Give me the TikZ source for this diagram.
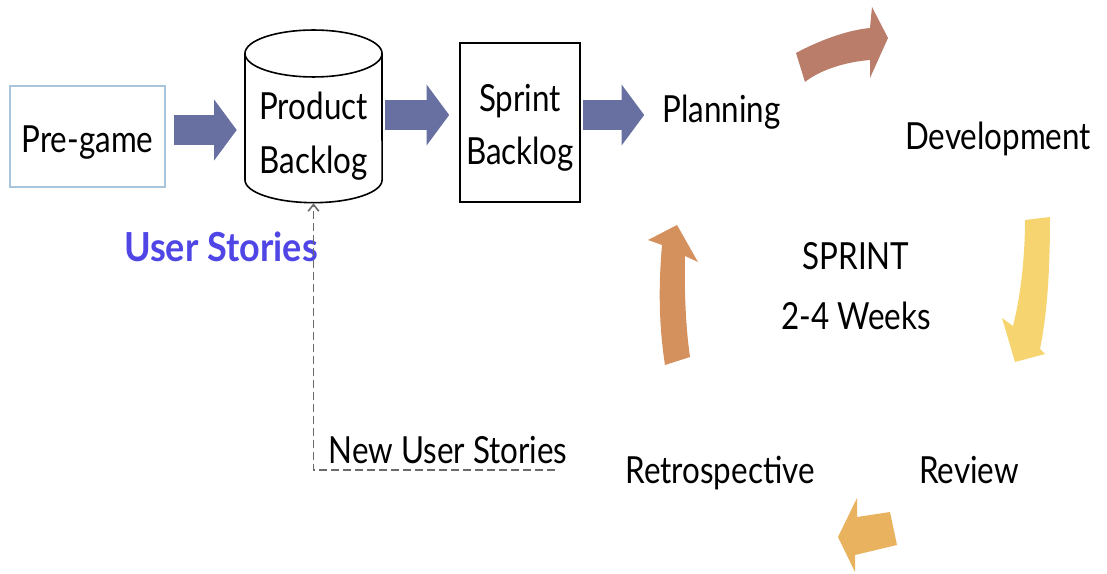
\documentclass[tikz,border=0pt]{standalone}
\usepackage{fontspec}
\setmainfont[FakeStretch=0.84]{Lato}
\newfontfamily\usfont[FakeStretch=0.9]{Lato}
\usetikzlibrary{arrows.meta,calc}
\definecolor{fatblue}{HTML}{6870A2}
\definecolor{pgborder}{HTML}{A9C5DD}
\definecolor{usblue}{HTML}{5046E6}
\definecolor{arrA}{HTML}{B97D69}
\definecolor{arrB}{HTML}{F6D470}
\definecolor{arrC}{HTML}{E9B25F}
\definecolor{arrD}{HTML}{D4915E}
\definecolor{dashgray}{HTML}{6A6A6A}
\tikzset{
  lbl/.style={font=\fontsize{28}{40}\selectfont, inner sep=0pt, align=center},
  boxnode/.style={draw, line width=1.2pt, inner sep=0pt},
  fatarrow/.style={draw=fatblue, line width=22pt, -{Triangle[length=17pt,width=45pt]}},
  dashln/.style={draw=dashgray, line width=1.2pt, dash pattern=on 6pt off 3pt, -{Straight Barb[length=5pt,width=8pt]}}
}
\begin{document}
\begin{tikzpicture}[x=0.75pt,y=-0.75pt]
\useasboundingbox (0,0) rectangle (1107,574);
% Pre-game
\node[boxnode, draw=pgborder, minimum width=116.25pt, minimum height=75.75pt] (pg) at (87.5,136.5) {};
\node[lbl, anchor=base] (pgt) at (87.5,153) {Pre-game};
% Product backlog cylinder
\node[inner sep=0pt, minimum width=102.75pt, minimum height=129.75pt] (pb) at (313.5,116.5) {};
\draw[line width=1.2pt] (313.5,53.5) ellipse [x radius=51.4pt, y radius=17.6pt];
\draw[line width=1.2pt] (245,53.5) -- (245,180) arc[start angle=180, end angle=360, x radius=51.4pt, y radius=17pt] -- (382,53.5);
\node[lbl] (pbt) at (313.5,136) {Product\\Backlog};
% Sprint backlog
\node[boxnode, minimum width=90pt, minimum height=119.25pt] (sb) at (520,122.5) {};
\node[lbl] (sbt) at (520,128) {Sprint\\Backlog};
% Planning etc
\node[lbl, anchor=base] (plan) at (721.5,123) {Planning};
\node[lbl, anchor=base] (dev) at (998,150) {Development};
\node[lbl, font=\fontsize{28}{45}\selectfont] (sprint) at (856,286) {SPRINT\\2-4 Weeks};
\node[lbl, anchor=base] (retro) at (720,483) {Retrospective};
\node[lbl, anchor=base] (rev) at (969,483) {Review};
\node[lbl, anchor=base, font=\fontsize{30}{40}\usfont\bfseries, text=usblue] (us) at (221,262) {User Stories};
\node[lbl, anchor=base] (nus) at (448,463) {New User Stories};
% fat arrows
\coordinate (ya) at (0,130);
\coordinate (yb) at (0,115);
\draw[fatarrow] ($(pg.east |- ya)+(8,0)$) -- ($(pb.west |- ya)+(-8,0)$);
\draw[fatarrow] ($(pb.east |- yb)+(3,0)$) -- ($(sb.west |- yb)+(-10,0)$);
\draw[fatarrow] ($(sb.east |- yb)+(2,0)$) -- ($(plan.west |- yb)+(-18,0)$);
% dashed feedback
\coordinate (nusend) at (555,470);
\draw[dashln] (nusend) -| (pb.south);
% cycle arrows
\fill[arrA] (796,53) .. controls (820,40) and (848,30) .. (870,28) -- (872,7) -- (888,38) -- (870,78) -- (870,60) .. controls (845,62) and (820,70) .. (805,82) -- cycle;
\fill[arrB] (1025,220) -- (1050,217) .. controls (1050,280) and (1046,320) .. (1040,349) -- (1045,354) -- (1015,362) -- (1002,318) -- (1013,326) .. controls (1022,290) and (1025,250) .. (1025,220) -- cycle;
\fill[arrC] (857,498) -- (857,517) -- (890,512) -- (897,545) -- (855,555) -- (855,572) -- (838,537) -- cycle;
\fill[arrD] (665,365) .. controls (658,320) and (659,280) .. (662,245) -- (648,240) -- (677,225) -- (698,262) -- (685,256) .. controls (684,290) and (686,330) .. (690,357) -- cycle;
\end{tikzpicture}
\end{document}
